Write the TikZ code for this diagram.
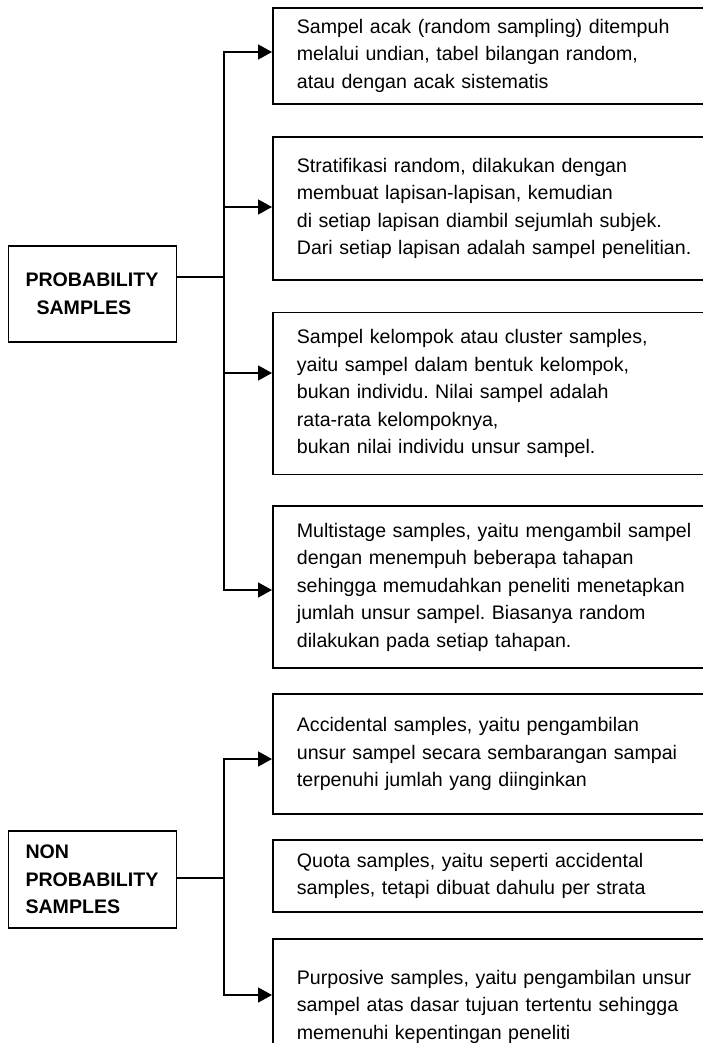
\documentclass[tikz,border=0pt]{standalone}
\usepackage{fontspec}
\setmainfont{Liberation Sans}
\usetikzlibrary{positioning,arrows.meta}
\frenchspacing

\begin{document}
\begin{tikzpicture}[
  x=1pt, y=-1pt,
  node distance=31pt,
  itembox/.style={draw,line width=1.8pt,font=\fontsize{19.6}{27.5}\selectfont,text width=410pt,inner xsep=24pt,inner ysep=0pt,align=left},
  mainbox/.style={draw,line width=1.8pt,font=\fontsize{19.6}{27.5}\selectfont\bfseries,text width=134pt,inner xsep=17pt,inner ysep=0pt,align=left,anchor=north west},
  conn/.style={line width=1.6pt,line cap=rect},
  arr/.style={conn,-{Triangle[length=14pt,width=15pt]}}
]
\useasboundingbox (0,0) rectangle (702,1043);

% probability samples
\node[itembox,anchor=north west,minimum height=96pt] at (272,7) (b1) {Sampel acak (random sampling) ditempuh\\melalui undian, tabel bilangan random,\\atau dengan acak sistematis};
\node[itembox,minimum height=143pt,below=31pt of b1] (b2) {Stratifikasi random, dilakukan dengan\\membuat lapisan-lapisan, kemudian\\di setiap lapisan diambil sejumlah subjek.\\Dari setiap lapisan adalah sampel penelitian.};
\node[itembox,minimum height=162pt,below=31pt of b2] (b3) {Sampel kelompok atau cluster samples,\\yaitu sampel dalam bentuk kelompok,\\bukan individu. Nilai sampel adalah\\rata-rata kelompoknya,\\bukan nilai individu unsur sampel.};
\node[itembox,minimum height=162pt,below=30pt of b3] (b4) {Multistage samples, yaitu mengambil sampel\\dengan menempuh beberapa tahapan\\sehingga memudahkan peneliti menetapkan\\jumlah unsur sampel. Biasanya random\\dilakukan pada setiap tahapan.};
\node[mainbox,minimum height=96pt] at (7.6,245) (pb) {PROBABILITY\\\hspace*{11pt}SAMPLES};

% non probability samples
\node[itembox,minimum height=120pt,below=24pt of b4] (b5) {Accidental samples, yaitu pengambilan\\unsur sampel secara sembarangan sampai\\terpenuhi jumlah yang diinginkan};
\node[itembox,minimum height=72pt,below=24pt of b5] (b6) {Quota samples, yaitu seperti accidental\\samples, tetapi dibuat dahulu per strata};
\node[itembox,minimum height=136pt,below=25pt of b6] (b7) {Purposive samples, yaitu pengambilan unsur\\sampel atas dasar tujuan tertentu sehingga\\memenuhi kepentingan peneliti};
\node[mainbox,minimum height=97pt] at (7.6,830) (nb) {NON\\PROBABILITY\\SAMPLES};

\coordinate (a1) at (224,52);
\coordinate (a2) at (224,207);
\coordinate (a3) at (224,373);
\coordinate (a4) at (224,590);
\coordinate (j1) at (224,277);
\coordinate (c1) at (224,759);
\coordinate (c2) at (224,995);
\coordinate (j2) at (224,878);

\draw[conn,line width=2pt] (a1) -- (a4);
\draw[conn,line width=2pt] (c1) -- (c2);
\draw[conn] (j1 -| pb.east) -- (j1);
\draw[conn] (j2 -| nb.east) -- (j2);

\foreach \i in {1,...,4}
  \path (a\i) edge[arr] (a\i -| b\i.west);
\path (c1) edge[arr] (c1 -| b5.west)
(c2) edge[arr] (c2 -| b7.west);

\end{tikzpicture}
\end{document}
